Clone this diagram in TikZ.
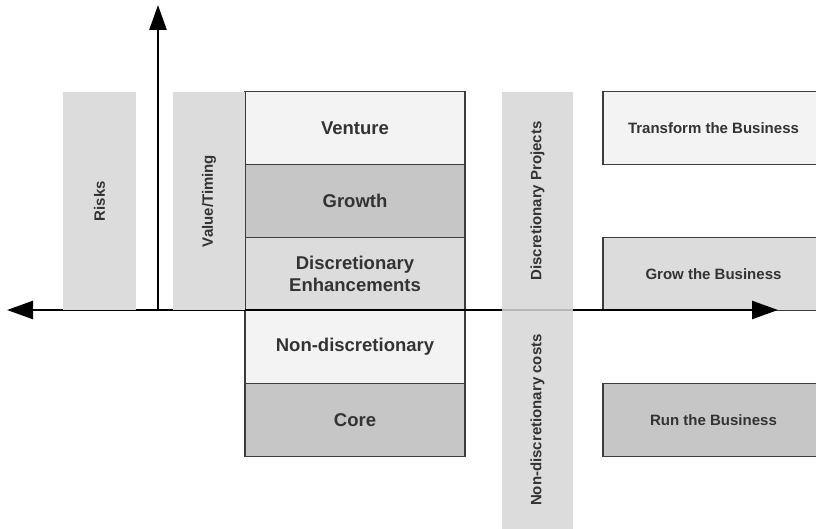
\documentclass[tikz,border=0pt]{standalone}
\usepackage{fontspec}
\setmainfont{Liberation Sans}
\usetikzlibrary{arrows.meta}
\definecolor{paleband}{HTML}{F3F3F3}
\definecolor{midband}{HTML}{DCDCDC}
\definecolor{darkband}{HTML}{C6C6C6}
\definecolor{stripfill}{HTML}{D6D6D6}
\definecolor{edgegray}{HTML}{3C3C3C}
\definecolor{labelgray}{HTML}{333333}
\tikzset{
  x=1pt, y=-1pt,
  tier/.style={draw=edgegray, line width=1.1pt, inner sep=0pt,
    minimum width=220pt, minimum height=73pt, text=labelgray,
    font=\bfseries\fontsize{18.5}{21.5}\selectfont, align=center},
  outcome/.style={draw=edgegray, line width=1.1pt, inner sep=0pt,
    minimum width=221pt, minimum height=73pt, text=labelgray,
    font=\bfseries\fontsize{15}{18}\selectfont},
  sideband/.style={fill=midband, inner sep=0pt, text=labelgray,
    font=\bfseries\fontsize{15}{18}\selectfont},
  strip/.style={fill=stripfill, fill opacity=0.85, text opacity=1,
    inner sep=0pt, minimum width=71pt, text=labelgray,
    font=\bfseries\fontsize{15}{18}\selectfont},
  axisline/.style={line width=2.6pt, black},
  axistip/.style={Triangle[length=26pt, width=18pt]}
}
\begin{document}
\begin{tikzpicture}
\useasboundingbox (0,0) rectangle (816,529);
\clip (0,0) rectangle (816,529);

% portfolio tiers
\node[tier, fill=paleband] (venture) at (355,128) {Venture};
\node[tier, fill=darkband] (growth) at (355,201) {Growth};
\node[tier, fill=midband] (enhance) at (355,274) {Discretionary\\Enhancements};
\node[tier, fill=paleband] (nondisc) at (355,347) {Non-discretionary};
\node[tier, fill=darkband] (core) at (355,420) {Core};

% business outcomes on the right
\node[outcome, fill=paleband] (transform) at (713.5,128) {Transform the Business};
\node[outcome, fill=midband] (grow) at (713.5,274) {Grow the Business};
\node[outcome, fill=darkband] (run) at (713.5,420) {Run the Business};

% axes
\coordinate (west) at (7,310);
\coordinate (east) at (778,310);
\coordinate (origin) at (158,310);
\coordinate (north) at (158,5);
\draw[axisline, {Triangle[length=26pt, width=18pt]}-{Triangle[length=26pt, width=18pt]}] (west) -- (east);
\draw[axisline, -{Triangle[length=25pt, width=17pt]}] (origin) -- (north);

% left-hand bands
\node[sideband, minimum width=73pt, minimum height=218pt] (risks) at (99.5,201)
  {\rotatebox{90}{Risks}};
\node[sideband, minimum width=72pt, minimum height=218pt] (timing) at (209,201)
  {\rotatebox{90}{Value/Timing}};

% discretionary / non-discretionary strips
\node[strip, minimum height=218pt] (projects) at (537.5,201)
  {\rotatebox{90}{Discretionary Projects}};
\node[strip, minimum height=220pt] (costs) at (537.5,420)
  {\rotatebox{90}{Non-discretionary costs}};
\end{tikzpicture}
\end{document}
